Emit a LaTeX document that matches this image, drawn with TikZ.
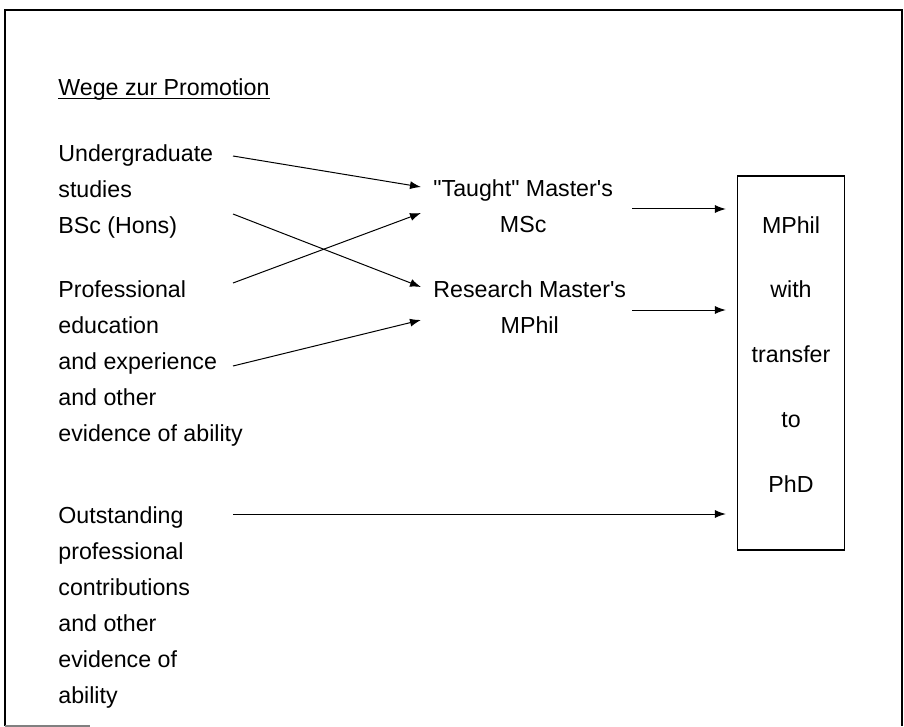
\documentclass[tikz,border=0pt]{standalone}
\usepackage{fontspec}
\setmainfont{Liberation Sans}
\usetikzlibrary{positioning}
\usetikzlibrary{arrows.meta}

\begin{document}
\begin{tikzpicture}[x=0.5pt,y=-0.5pt]

          \tikzstyle{plainText} = [inner sep=0pt, font=\fontsize{11.6}{18}\selectfont];
          \tikzstyle{leftText} = [plainText, align=left, anchor=base west];
          \tikzstyle{midText} = [plainText, align=center, anchor=base west];
          \tikzstyle{boxText} = [plainText, align=center, anchor=base, font=\fontsize{11.6}{32.35}\selectfont];
          \tikzstyle{phdBox} = [draw, line width=0.6pt, minimum width=53.5pt, minimum height=187pt, inner sep=0pt];
          \tikzstyle{normalEdge} = [line width=0.5pt, -{Latex[length=5.5pt,width=4pt]}];
          \tikzstyle{frameEdge} = [line width=1pt];

          \useasboundingbox (0,0) rectangle (904,727);
          \draw[frameEdge] (5,726) -- (5,10) -- (902,10) -- (902,726);
          \draw[gray, line width=0.6pt] (5,726) -- (90,726);

          \node[plainText, anchor=base west] (title) at (58,96) {Wege zur Promotion};
          \draw[line width=0.5pt] ([yshift=-1.2pt]title.base west) -- ([yshift=-1.2pt]title.base east);

          % base = baseline of the last line
          \node[leftText] (undergrad) at (58,234) {Undergraduate\\studies\\BSc (Hons)};
          \node[leftText] (profEdu) at (58,441) {Professional\\education\\and experience\\and other\\evidence of ability};
          \node[leftText] (outstanding) at (58,703) {Outstanding\\professional\\contributions\\and other\\evidence of\\ability};

          \node[midText] (taught) at (433,233) {\textquotedbl Taught\textquotedbl{} Master\textquotesingle s\\MSc};
          \node[midText] (research) at (433,333) {Research Master\textquotesingle s\\MPhil};

          \node[phdBox] (phd) at (791,363) {};
          \node[boxText] (phdText) at (791,492) {MPhil\\with\\transfer\\to\\PhD};

          % links into the two master's routes
          \draw[normalEdge] ([xshift=87.5pt,yshift=39pt]undergrad.base west) -- ([xshift=-6pt,yshift=23pt]taught.base west);
          \draw[normalEdge] ([xshift=87.5pt,yshift=10pt]undergrad.base west) -- ([xshift=-6pt,yshift=23pt]research.base west);
          \draw[normalEdge] ([xshift=87.5pt,yshift=79pt]profEdu.base west) -- ([xshift=-6pt,yshift=10pt]taught.base west);
          \draw[normalEdge] ([xshift=87.5pt,yshift=37.5pt]profEdu.base west) -- ([xshift=-6pt,yshift=6.5pt]research.base west);

          % links into the box
          \coordinate (mscOut) at ([xshift=99.5pt,yshift=12pt]taught.base west);
          \coordinate (mphilOut) at ([xshift=99.5pt,yshift=11.5pt]research.base west);
          \coordinate (outstOut) at ([xshift=87.5pt,yshift=94.5pt]outstanding.base west);
          \draw[normalEdge, shorten >=5.5pt] (mscOut) -- (mscOut -| phd.west);
          \draw[normalEdge, shorten >=5.5pt] (mphilOut) -- (mphilOut -| phd.west);
          \draw[normalEdge, shorten >=5.5pt] (outstOut) -- (outstOut -| phd.west);
        \end{tikzpicture}
\end{document}
